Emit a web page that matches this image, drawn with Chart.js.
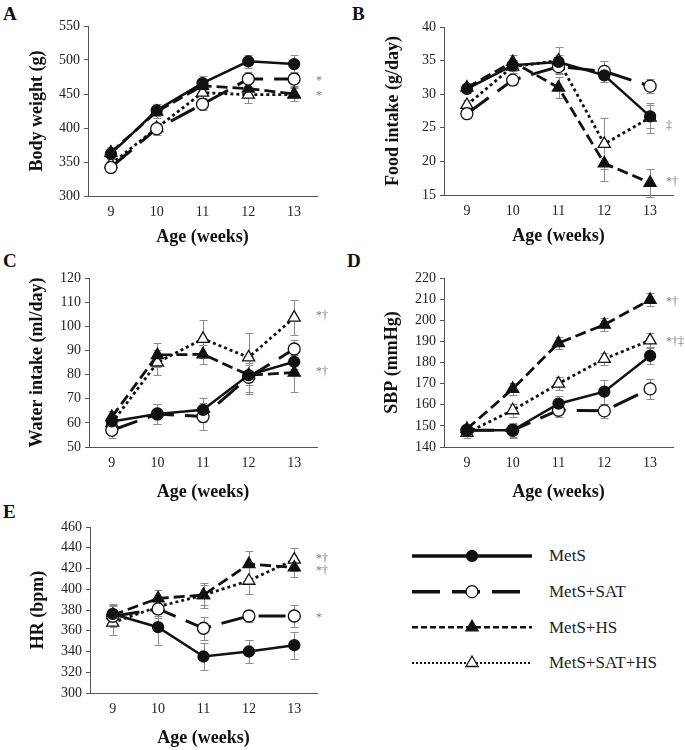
<!DOCTYPE html>
<html>
<head>
<meta charset="utf-8">
<script src="https://cdn.jsdelivr.net/npm/chart.js@4.4.1/dist/chart.umd.min.js"></script>
<style>
  body { margin: 0; background: #fff; }
  #page { position: relative; width: 685px; height: 750px; overflow: hidden; font-family: "Liberation Serif", "Times New Roman", serif; }
  canvas { position: absolute; }
  .tag { position: absolute; font-weight: bold; font-size: 19px; line-height: 20px; color: #111; }
  .leg { position: absolute; font-size: 17px; line-height: 20px; color: #222; white-space: nowrap; }
</style>
</head>
<body>
<div id="page">
  <div class="tag" style="left:3px;top:4px">A</div>
  <div class="tag" style="left:352px;top:4px">B</div>
  <div class="tag" style="left:3px;top:251px">C</div>
  <div class="tag" style="left:347px;top:251px">D</div>
  <div class="tag" style="left:3px;top:502px">E</div>
  <canvas id="chartA"></canvas>
  <canvas id="chartB"></canvas>
  <canvas id="chartC"></canvas>
  <canvas id="chartD"></canvas>
  <canvas id="chartE"></canvas>
  <canvas id="legendChart"></canvas>
</div>
<script>
const weeks = ['9', '10', '11', '12', '13'];
const groups = ['MetS', 'MetS+SAT', 'MetS+HS', 'MetS+SAT+HS'];

// means, one row per group (same order as `groups`)
const bodyWeight = [
  [362, 426, 466, 498, 494],
  [342, 399, 435, 472, 472],
  [364, 424, 462, 458, 450],
  [347, 400, 452, 449, 449]
];
const bodyWeightErr = [
  [8, 9, 10, 10, 13],
  [7, 9, 9, 10, 10],
  [8, 9, 10, 11, 10],
  [7, 8, 10, 12, 10]
];
const foodIntake = [
  [30.8, 34.3, 34.8, 32.8, 26.7],
  [27.1, 32.1, 34.1, 33.4, 31.2],
  [31.0, 34.8, 31.0, 19.7, 16.8],
  [28.4, 34.1, 35.0, 22.6, 26.5]
];
const foodIntakeErr = [
  [0.6, 0.8, 1.0, 1.0, 1.7],
  [0.6, 0.8, 1.0, 1.6, 1.0],
  [0.7, 1.0, 1.5, 2.6, 2.1],
  [0.8, 1.0, 2.0, 3.8, 2.2]
];
const waterIntake = [
  [60.6, 63.7, 65.4, 79.8, 85.3],
  [56.9, 63.7, 62.6, 78.9, 90.6],
  [62.4, 88.1, 88.4, 79.8, 80.8],
  [59.9, 85.0, 94.8, 87.1, 103.6]
];
const waterIntakeErr = [
  [2.5, 4.0, 5.0, 4.0, 3.0],
  [3.0, 4.0, 5.7, 6.0, 3.7],
  [2.5, 5.0, 4.0, 8.0, 8.0],
  [3.0, 5.0, 8.0, 10.0, 7.2]
];
const sbp = [
  [147.9, 147.9, 160.5, 166.2, 183.2],
  [147.9, 147.9, 157.4, 157.1, 167.5],
  [148.5, 167.5, 189.2, 197.9, 209.7],
  [146.7, 157.4, 170.0, 181.7, 190.5]
];
const sbpErr = [
  [2.5, 3.6, 3.5, 5.7, 4.0],
  [2.5, 3.0, 3.0, 3.3, 4.7],
  [2.5, 2.8, 3.0, 3.0, 3.0],
  [2.5, 3.0, 3.0, 3.0, 3.5]
];
const heartRate = [
  [376.2, 363.4, 335.2, 340.0, 346.1],
  [374.0, 381.0, 362.4, 374.2, 374.2],
  [375.2, 391.2, 394.4, 424.2, 421.0],
  [367.8, 383.2, 394.4, 408.2, 428.6]
];
const heartRateErr = [
  [10, 17, 13, 11, 13],
  [10, 9, 11, 6, 11],
  [10, 8, 10, 13, 9],
  [12, 9, 12, 13, 11]
];

// significance marks right of each panel: [text, value]
const sigA = [['*', 472], ['*', 450]];
const sigB = [['\u2021', 25.6], ['*\u2020', 17.2]];
const sigC = [['*\u2020', 105], ['*\u2020', 81.9]];
const sigD = [['*\u2020', 209.7], ['*\u2020\u2021', 190.8]];
const sigE = [['*\u2020', 431], ['*\u2020', 420], ['*', 374]];

const serif = '"Liberation Serif", "Times New Roman", serif';
const ink = '#111';

const styles = [
  { borderDash: [], borderWidth: 2.5, pointStyle: 'circle', pointRadius: 5.5, pointBackgroundColor: ink },
  { borderDash: [27, 11], borderWidth: 3, pointStyle: 'circle', pointRadius: 6, pointBackgroundColor: '#fff' },
  { borderDash: [11, 5], borderWidth: 2.8, pointStyle: 'triangle', pointRadius: 7, pointBackgroundColor: ink },
  { borderDash: [3, 3], borderWidth: 2.8, pointStyle: 'triangle', pointRadius: 7, pointBackgroundColor: '#fff' }
];

const errorBars = {
  id: 'errorBars',
  beforeDatasetsDraw(chart) {
    const ctx = chart.ctx;
    const y = chart.scales.y;
    ctx.save();
    ctx.strokeStyle = '#8c8c8c';
    ctx.lineWidth = 1;
    chart.data.datasets.forEach((ds, i) => {
      chart.getDatasetMeta(i).data.forEach((pt, j) => {
        const top = Math.round(y.getPixelForValue(ds.data[j] + ds.errors[j])) + 0.5;
        const bot = Math.round(y.getPixelForValue(ds.data[j] - ds.errors[j])) + 0.5;
        const x = Math.round(pt.x) + 0.5;
        ctx.beginPath();
        ctx.moveTo(x, top); ctx.lineTo(x, bot);
        ctx.moveTo(x - 4, top); ctx.lineTo(x + 4, top);
        ctx.moveTo(x - 4, bot); ctx.lineTo(x + 4, bot);
        ctx.stroke();
      });
    });
    ctx.restore();
  }
};

const sigMarks = {
  id: 'sigMarks',
  afterDraw(chart, args, opts) {
    const ctx = chart.ctx;
    const y = chart.scales.y;
    ctx.save();
    ctx.fillStyle = '#777';
    ctx.font = '12px ' + serif;
    ctx.textBaseline = 'middle';
    opts.items.forEach(([txt, v]) => {
      ctx.fillText(txt, chart.chartArea.right + opts.dx, y.getPixelForValue(v) + 2);
    });
    ctx.restore();
  }
};

function makePanel(p) {
  const cv = document.getElementById(p.id);
  const [bx, by, bw, bh] = p.box;
  const [al, at, ar, ab] = p.area;
  cv.width = bw; cv.height = bh;
  cv.style.left = bx + 'px';
  cv.style.top = by + 'px';

  const datasets = p.values.map((vals, i) => Object.assign({
    label: groups[i],
    data: vals,
    errors: p.errors[i],
    borderColor: ink,
    pointBorderColor: ink,
    pointBorderWidth: 1.3,
    fill: false,
    tension: 0,
    clip: false
  }, styles[i]));

  return new Chart(cv, {
    type: 'line',
    data: { labels: weeks, datasets: datasets },
    options: {
      responsive: false,
      animation: false,
      events: [],
      layout: { padding: { left: 0, top: at - by, right: bx + bw - ar, bottom: by + bh - ab - p.xh } },
      plugins: {
        legend: { display: false },
        tooltip: { enabled: false },
        sigMarks: { items: p.sig, dx: p.sigDx }
      },
      scales: {
        x: {
          offset: true,
          grid: { display: false, drawTicks: false },
          border: { color: '#555', width: 1 },
          ticks: { padding: 8, color: '#222', font: { family: serif, size: 14 } },
          title: { display: true, text: 'Age (weeks)', color: ink, padding: 0,
                   font: { family: serif, size: 18, weight: 'bold' } },
          afterFit: s => { s.height = p.xh; }
        },
        y: {
          min: p.min,
          max: p.max,
          ticks: { stepSize: p.step, padding: 4, color: '#222', font: { family: serif, size: 14 } },
          grid: { drawOnChartArea: false, tickLength: 4, color: '#555' },
          border: { color: '#555', width: 1 },
          title: { display: true, text: p.yTitle, color: ink, padding: { top: p.titleX - bx - 10.8, bottom: 0 },
                   font: { family: serif, size: 18, weight: 'bold' } },
          afterFit: s => { s.width = al - bx; }
        }
      }
    },
    plugins: [errorBars, sigMarks]
  });
}

makePanel({ id: 'chartA', box: [0, 0, 342, 250], area: [88, 26, 317, 196], xh: 52, titleX: 37,
  min: 300, max: 550, step: 50, yTitle: 'Body weight (g)',
  values: bodyWeight, errors: bodyWeightErr, sig: sigA, sigDx: -1 });
makePanel({ id: 'chartB', box: [342, 0, 343, 250], area: [444, 27, 673, 195], xh: 52, titleX: 393,
  min: 15, max: 40, step: 5, yTitle: 'Food intake (g/day)',
  values: foodIntake, errors: foodIntakeErr, sig: sigB, sigDx: -7 });
makePanel({ id: 'chartC', box: [0, 245, 342, 260], area: [89, 278, 317, 447], xh: 56, titleX: 37,
  min: 50, max: 120, step: 10, yTitle: 'Water intake (ml/day)',
  values: waterIntake, errors: waterIntakeErr, sig: sigC, sigDx: -1 });
makePanel({ id: 'chartD', box: [342, 245, 343, 260], area: [444, 278, 673, 447], xh: 56, titleX: 392,
  min: 140, max: 220, step: 10, yTitle: 'SBP (mmHg)',
  values: sbp, errors: sbpErr, sig: sigD, sigDx: -7 });
makePanel({ id: 'chartE', box: [0, 490, 342, 260], area: [90, 527, 317, 693], xh: 56, titleX: 38,
  min: 300, max: 460, step: 20, yTitle: 'HR (bpm)',
  values: heartRate, errors: heartRateErr, sig: sigE, sigDx: -1 });

// legend: one short line per group with its marker in the middle
const legendStyles = [
  { borderDash: [], borderWidth: 3.5 },
  { borderDash: [28, 12], borderWidth: 3.5 },
  { borderDash: [6, 3], borderWidth: 2.5 },
  { borderDash: [2, 2], borderWidth: 2 }
];
const legCv = document.getElementById('legendChart');
legCv.width = 145; legCv.height = 140;
legCv.style.left = '400px';
legCv.style.top = '540px';
new Chart(legCv, {
  type: 'line',
  data: {
    datasets: groups.map((g, i) => Object.assign({}, styles[i], legendStyles[i], {
      label: g,
      data: [0, 1, 2].map(x => ({ x: x, y: i })),
      pointRadius: [0, styles[i].pointRadius, 0],
      borderColor: ink,
      pointBorderColor: ink,
      pointBorderWidth: 1.3,
      tension: 0,
      clip: false
    }))
  },
  options: {
    responsive: false,
    animation: false,
    events: [],
    layout: { padding: { left: 12, right: 13, top: 16, bottom: 17 } },
    plugins: { legend: { display: false }, tooltip: { enabled: false } },
    scales: {
      x: { type: 'linear', min: 0, max: 2, display: false },
      y: { type: 'linear', min: 0, max: 3, reverse: true, display: false }
    }
  }
});
const page = document.getElementById('page');
const rowY = [556, 592, 628, 663];
groups.forEach((g, i) => {
  const d = document.createElement('div');
  d.className = 'leg';
  d.style.left = '549px';
  d.style.top = (rowY[i] - 10) + 'px';
  d.textContent = g;
  page.appendChild(d);
});
</script>
</body>
</html>
